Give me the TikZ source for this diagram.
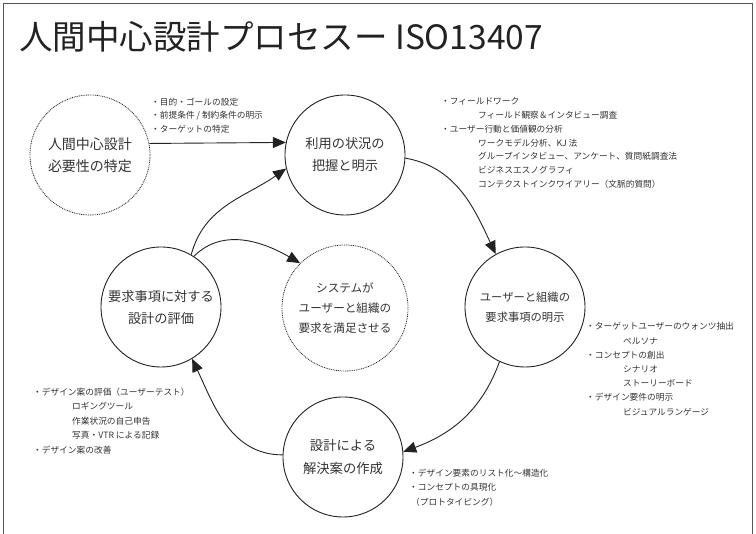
\documentclass[tikz,border=0pt]{standalone}
\usepackage{fontspec}
\setmainfont{Noto Sans CJK JP}
\usetikzlibrary{arrows.meta}
\definecolor{txtcol}{HTML}{333333}
\definecolor{linecol}{HTML}{222222}
\definecolor{framecol}{HTML}{555555}
\tikzset{
 bubble/.style={circle, draw=linecol, line width=0.9pt, minimum size=120pt, inner sep=0pt, align=center, text=txtcol},
 dotbubble/.style={bubble, dash pattern=on 0.9pt off 0.9pt, line width=0.8pt},
 arr/.style={draw=linecol, line width=0.9pt, -{Triangle[length=13pt,width=11pt]}},
 note/.style={anchor=north west, inner sep=0pt, align=left, text=txtcol},
}
\begin{document}
\begin{tikzpicture}[x=1pt,y=1pt]
\useasboundingbox (0,0) rectangle (756,534);
\draw[framecol, line width=0.8pt] (3.5,0) -- (3.5,530.5) -- (752.5,530.5) -- (752.5,0);

\node[anchor=west, inner sep=0pt, font=\fontsize{33.5}{33.5}\selectfont, text=linecol] (T) at (19,497) {人間中心設計プロセスー ISO13407};

\node[dotbubble, font=\fontsize{14}{22}\selectfont] (A) at (90,379) {人間中心設計\\必要性の特定};
\node[bubble, font=\fontsize{13.2}{22}\selectfont] (B) at (345,379) {利用の状況の\\把握と明示};
\node[bubble, font=\fontsize{11.3}{20}\selectfont] (C) at (525,227) {ユーザーと組織の\\要求事項の明示};
\node[bubble, font=\fontsize{13.3}{23}\selectfont] (D) at (343,77) {設計による\\解決案の作成};
\node[bubble, font=\fontsize{13.2}{22}\selectfont] (E) at (161,227) {要求事項に対する\\設計の評価};
\node[dotbubble, minimum size=126pt, font=\fontsize{11.6}{19.8}\selectfont] (F) at (345,226) {システムが\\ユーザーと組織の\\要求を満足させる};

\draw[arr] (A.11.5) -- (B.168.5);
\draw[arr] (E.60) to[out=75,in=215] (B.193);
\draw[arr] (E.57) to[out=45,in=150] (F.135);
\draw[arr] (B.-3) to[out=-10,in=115] (C.119);
\draw[arr] (C.245) to[out=250,in=20] (D.5);
\draw[arr] (D.178) to[out=180,in=-65] (E.-59);

\node[note, font=\fontsize{8.7}{13.7}\selectfont] (n1) at (151,436.5) {・目的・ゴールの設定\\・前提条件 / 制約条件の明示\\・ターゲットの特定};

\node[note, font=\fontsize{8.7}{13.8}\selectfont] (n2) at (441,436.5) {・フィールドワーク\\
\hspace*{37pt}フィールド観察＆インタビュー調査\\
・ユーザー行動と価値観の分析\\
\hspace*{37pt}ワークモデル分析、KJ 法\\
\hspace*{37pt}グループインタビュー、アンケート、質問紙調査法\\
\hspace*{37pt}ビジネスエスノグラフィ\\
\hspace*{37pt}コンテクストインクワイアリー（文脈的質問）};

\node[note, font=\fontsize{8.7}{14.2}\selectfont] (n3) at (586,211.5) {・ターゲットユーザーのウォンツ抽出\\
\hspace*{37pt}ペルソナ\\
・コンセプトの創出\\
\hspace*{37pt}シナリオ\\
\hspace*{37pt}ストーリーボード\\
・デザイン要件の明示\\
\hspace*{37pt}ビジュアルランゲージ};

\node[note, font=\fontsize{8.7}{14.5}\selectfont] (n4) at (33,146.5) {・デザイン案の評価（ユーザーテスト）\\
\hspace*{39pt}ロギングツール\\
\hspace*{39pt}作業状況の自己申告\\
\hspace*{39pt}写真・VTR による記録\\
・デザイン案の改善};

\node[note, font=\fontsize{8.7}{14.5}\selectfont] (n5) at (409,65.5) {・デザイン要素のリスト化〜構造化\\
・コンセプトの具現化\\
\hspace*{2pt}（プロトタイピング）};
\end{tikzpicture}
\end{document}
